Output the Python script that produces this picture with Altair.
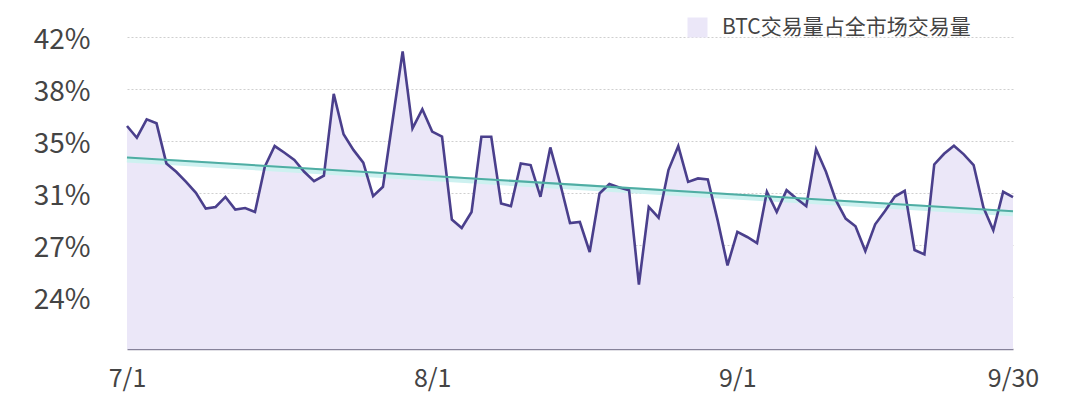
import altair as alt
import pandas as pd

# ---- data (BTC share of total market volume, daily) ----
share = [
    0.3551, 0.3472, 0.3596, 0.3569, 0.3299, 0.3243, 0.3175, 0.3101, 0.2995, 0.3006,
    0.3074, 0.2988, 0.2999, 0.2972, 0.3277, 0.3416, 0.3371, 0.3322, 0.3243, 0.3180,
    0.3216, 0.3767, 0.3495, 0.3390, 0.3304, 0.3079, 0.3142, 0.3596, 0.4053, 0.3535,
    0.3664, 0.3513, 0.3479, 0.2921, 0.2865, 0.2972, 0.3479, 0.3479, 0.3029, 0.3011,
    0.3299, 0.3288, 0.3074, 0.3407, 0.3164, 0.2898, 0.2905, 0.2703, 0.3097, 0.3160,
    0.3137, 0.3119, 0.2484, 0.3006, 0.2934, 0.3254, 0.3416, 0.3175, 0.3198, 0.3191,
    0.2916, 0.2613, 0.2838, 0.2804, 0.2763, 0.3108, 0.2972, 0.3119, 0.3063, 0.3011,
    0.3394, 0.3243, 0.3052, 0.2928, 0.2876, 0.2709, 0.2889, 0.2979, 0.3076, 0.3115,
    0.2716, 0.2687, 0.3292, 0.3364, 0.3418, 0.3360, 0.3288, 0.3002, 0.2849, 0.3108,
    0.3072,
]
day_index = list(range(len(share)))
series_name = "BTC交易量占全市场交易量"

x_tick_values = [0, 31, 62, 90]
x_tick_labels = ["7/1", "8/1", "9/1", "9/30"]
y_tick_values = [0.24, 0.275, 0.31, 0.345, 0.38, 0.415]
y_tick_labels = ["24%", "27%", "31%", "35%", "38%", "42%"]
y_min, y_max = 0.205, 0.415

df = pd.DataFrame({"idx": day_index, "share": share, "series": series_name})

FONT = "Noto Sans CJK SC"
LINE_COLOR = "#4a3f8c"
AREA_COLOR = "#ebe7f8"
TREND_COLOR = "#4fada3"
HALO_COLOR = "#cdf1f0"

x_label_expr = "[{}][indexof([{}], datum.value)]".format(
    ",".join("'%s'" % s for s in x_tick_labels), ",".join(str(v) for v in x_tick_values)
)
y_label_expr = "[{}][indexof([{}], round(datum.value*1000))]".format(
    ",".join("'%s'" % s for s in y_tick_labels),
    ",".join(str(int(round(v * 1000))) for v in y_tick_values),
)

x_enc = alt.X(
    "idx:Q",
    scale=alt.Scale(domain=[day_index[0], day_index[-1]], nice=False, zero=False),
    axis=alt.Axis(
        values=x_tick_values, labelExpr=x_label_expr, title=None, grid=False,
        ticks=False, domain=True, domainColor="#86829a", domainWidth=1.5,
        labelFontSize=25, labelFont=FONT, labelColor="#444444", labelPadding=17,
        labelFlush=False, labelOverlap=False, labelAlign="center",
    ),
)
y_enc = alt.Y(
    "share:Q",
    scale=alt.Scale(domain=[y_min, y_max], nice=False, zero=False),
    axis=alt.Axis(
        values=y_tick_values, labelExpr=y_label_expr, title=None, grid=True,
        gridColor="#cfcfcf", gridDash=[2, 2], gridWidth=1, ticks=False, domain=False,
        labelFontSize=28, labelFont=FONT, labelColor="#444444", labelPadding=37,
        labelOffset=3, labelFlush=False, labelOverlap=False,
    ),
)

base = alt.Chart(df)

area = base.mark_area(opacity=1).encode(
    x=x_enc,
    y=y_enc,
    y2=alt.datum(y_min),
    color=alt.Color(
        "series:N",
        scale=alt.Scale(range=[AREA_COLOR]),
        legend=alt.Legend(
            orient="none", legendX=560, legendY=-20, title=None,
            symbolType="square", symbolSize=400, symbolOpacity=1,
            symbolStrokeWidth=0, labelFontSize=21, labelFont=FONT,
            labelColor="#444444", labelOffset=14, padding=0, labelLimit=0,
        ),
    ),
)

line = base.mark_line(color=LINE_COLOR, strokeWidth=2.6, strokeJoin="miter").encode(
    x="idx:Q", y="share:Q"
)

trend_halo = base.transform_regression("idx", "share").mark_line(
    color=HALO_COLOR, strokeWidth=6, yOffset=2
).encode(x="idx:Q", y="share:Q")

trend = base.transform_regression("idx", "share").mark_line(
    color=TREND_COLOR, strokeWidth=2
).encode(x="idx:Q", y="share:Q")

chart = (
    alt.layer(area, trend_halo, line, trend)
    .properties(
        width=886,
        height=312,
        autosize=alt.AutoSizeParams(type="none"),
        padding={"left": 119, "top": 29, "right": 50, "bottom": 47},
        background="white",
    )
    .configure_view(stroke=None)
)

chart.save("out.html", embed_options={"renderer": "svg", "actions": False})
